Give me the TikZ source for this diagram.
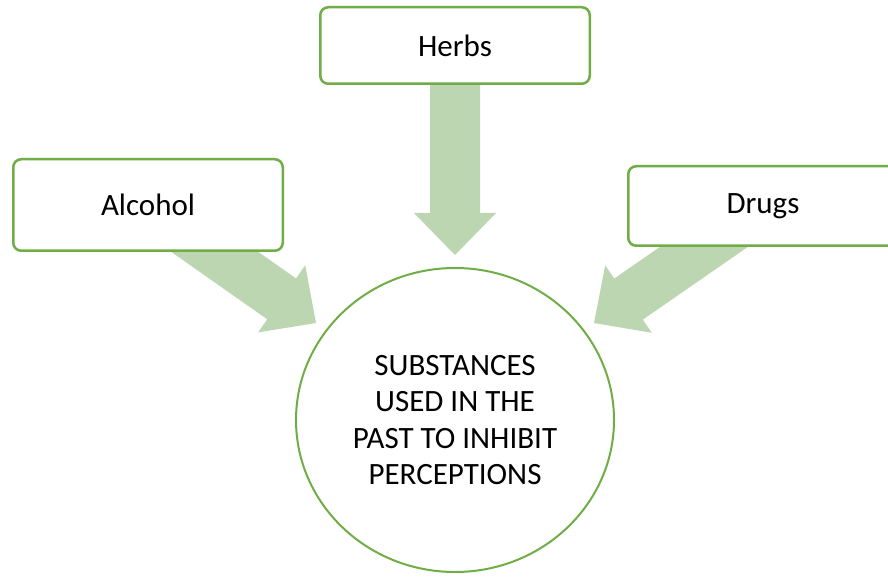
\documentclass[tikz,border=0pt]{standalone}
\usepackage{fontspec}
\setmainfont{Carlito}
\usetikzlibrary{calc,shapes.geometric,backgrounds}
\definecolor{boxgreen}{RGB}{112,173,71}
\definecolor{arrowgreen}{RGB}{189,214,178}
\tikzset{
  srcbox/.style={draw=boxgreen, line width=2.5pt, rounded corners=8pt, fill=white,
    minimum width=269.5pt, inner sep=0pt, font=\fontsize{31}{37}\selectfont},
  hub/.style={ellipse, draw=boxgreen, line width=2pt, fill=white,
    minimum width=318pt, minimum height=304pt, inner sep=0pt, align=center,
    font=\fontsize{31}{36.5}\selectfont},
  blockarrowfill/.style={fill=arrowgreen}
}
\newcommand{\bigarrow}[2]{% #1 tail, #2 tip
  \coordinate (hb) at ($(#2)!42pt!(#1)$);
  \fill[blockarrowfill] (#2) -- ($(hb)!41pt!90:(#2)$) -- ($(hb)!25pt!90:(#2)$)
    -- ($(#1)!25pt!90:(#2)$) -- ($(#1)!25pt!-90:(#2)$) -- ($(hb)!25pt!-90:(#2)$)
    -- ($(hb)!41pt!-90:(#2)$) -- cycle;
}
\begin{document}
\begin{tikzpicture}[x=1pt,y=-1pt]
  \clip (0,0) rectangle (888,577);
  \node[srcbox, minimum height=76.5pt] (herbs) at (455,45.5) {Herbs};
  \node[srcbox, minimum height=91.5pt] (alcohol) at (148,205) {Alcohol};
  \node[srcbox, minimum height=79.5pt] (drugs) at (763,206) {Drugs};
  \node[hub] (hub) at (455,420) {SUBSTANCES\\USED IN THE\\PAST TO INHIBIT\\PERCEPTIONS};
  \coordinate (tipH) at (455,255);
  \coordinate (tipA) at (316,323);
  \coordinate (tipD) at (594,323);
  \begin{pgfonlayer}{background}
    \fill[white] (0,0) rectangle (888,577);
    \bigarrow{herbs.center}{tipH}
    \bigarrow{alcohol.center}{tipA}
    \bigarrow{drugs.center}{tipD}
  \end{pgfonlayer}
\end{tikzpicture}
\end{document}
